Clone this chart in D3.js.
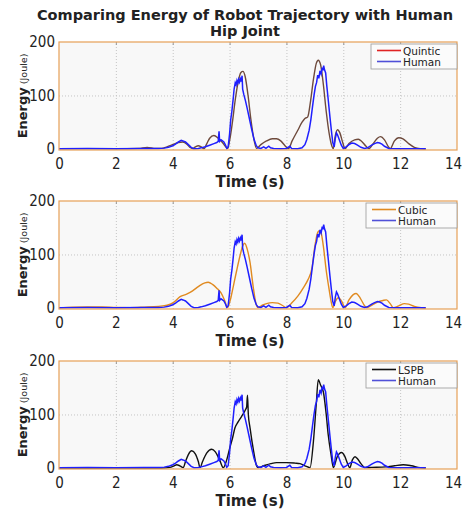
<!DOCTYPE html>
<html>
<head>
<meta charset="utf-8">
<script src="https://cdn.jsdelivr.net/npm/d3@7"></script>
<style>
  body { margin: 0; background: #fff; }
  text { font-family: "DejaVu Sans", sans-serif; fill: #222; }
</style>
</head>
<body>
<div id="chart"></div>
<script>
const width = 464;
const height = 510;

// tick labels
const timeTicks = [0, 2, 4, 6, 8, 10, 12, 14];
const energyTicks = [0, 100, 200];

// human hip joint energy (same recording in every panel)
const humanTime = [0, 1, 2, 3, 3.5, 3.7, 3.85, 4.0, 4.1, 4.2, 4.3, 4.36, 4.45, 4.55, 4.65, 4.75, 4.9, 5.0, 5.15, 5.3,
  5.45, 5.55, 5.6, 5.63, 5.65, 5.7, 5.75, 5.8, 5.86, 5.9, 5.95, 6.0, 6.04, 6.08, 6.12, 6.16, 6.2, 6.23, 6.26, 6.29,
  6.32, 6.35, 6.38, 6.41, 6.44, 6.46, 6.5, 6.56, 6.62, 6.7, 6.78, 6.86, 6.94, 7.0, 7.1, 7.2, 7.28, 7.38, 7.44, 7.55,
  7.8, 8.0, 8.12, 8.18, 8.4, 8.55, 8.65, 8.72, 8.8, 8.86, 8.92, 8.97, 9.02, 9.06, 9.1, 9.14, 9.18, 9.22, 9.26, 9.29,
  9.31, 9.34, 9.38, 9.42, 9.47, 9.53, 9.58, 9.63, 9.68, 9.72, 9.76, 9.8, 9.86, 9.93, 10.0, 10.1, 10.2, 10.3, 10.4, 10.5,
  10.62, 10.75, 10.85, 11.0, 11.1, 11.2, 11.28, 11.36, 11.45, 11.6, 12.0, 12.5, 12.9];
const humanEnergy = [0.5, 0.8, 0.4, 0.6, 0.8, 1.5, 3, 6, 9, 13, 16, 15, 13, 8, 3, 0.5, 1, 2, 4, 7,
  10, 12, 14, 33, 14, 17, 15, 13, 7, 1, 4, 28, 55, 70, 90, 112, 124, 120, 128, 123,
  130, 125, 131, 126, 137, 112, 102, 90, 76, 56, 36, 18, 6, 2, 1, 4, 1, 5, 2, 1,
  0.5, 1, 5, 1, 0.5, 2, 8, 18, 35, 55, 80, 100, 117, 124, 138, 132, 146, 140, 152, 147,
  156, 148, 142, 118, 92, 60, 35, 12, 4, 20, 30, 26, 17, 7, 1, 4, 8, 11, 10, 7,
  3, 1, 2, 7, 10, 12, 11, 9, 5, 1, 0.5, 0.5, 0.3];

// robot trajectories
const quinticTime = [0, 1, 2, 2.8, 3.1, 3.4, 3.6, 3.8, 4.0, 4.2, 4.35, 4.5, 4.6, 4.7, 4.8, 4.9, 5.0, 5.1, 5.2, 5.3,
  5.45, 5.6, 5.75, 5.85, 5.93, 6.0, 6.1, 6.2, 6.3, 6.4, 6.47, 6.55, 6.65, 6.75, 6.85, 6.95, 7.1, 7.3, 7.5, 7.65,
  7.8, 7.95, 8.07, 8.2, 8.4, 8.55, 8.65, 8.75, 8.85, 8.95, 9.05, 9.12, 9.2, 9.3, 9.4, 9.5, 9.6, 9.65, 9.72, 9.8,
  9.88, 9.98, 10.06, 10.2, 10.4, 10.53, 10.65, 10.8, 10.9, 11.05, 11.2, 11.31, 11.45, 11.6, 11.65, 11.8, 11.95, 12.1, 12.3, 12.5,
  12.7, 12.9];
const quinticEnergy = [0.5, 0.5, 0.5, 1, 3, 1, 1, 4, 8, 12, 13, 9, 3, 0.5, 4, 6, 4, 0.5, 10, 20,
  25, 20, 12, 5, 0.5, 15, 50, 92, 125, 143, 145, 135, 100, 55, 20, 1, 8, 15, 19, 19,
  15, 6, 0.5, 15, 35, 50, 57, 60, 90, 130, 160, 166, 158, 120, 70, 30, 5, 0.5, 25, 36,
  30, 12, 0.5, 10, 17, 18, 14, 5, 0.5, 10, 20, 23, 17, 3, 0.5, 15, 21, 19, 10, 3,
  0.5, 0];

const cubicTime = [0, 0.5, 1.0, 1.5, 2.0, 2.5, 3.0, 3.5, 3.8, 4.02, 4.26, 4.49, 4.7, 4.9, 5.13, 5.25, 5.4, 5.55, 5.7, 5.82,
  5.93, 6.05, 6.13, 6.25, 6.37, 6.47, 6.53, 6.62, 6.72, 6.83, 6.92, 7.0, 7.15, 7.3, 7.5, 7.7, 7.85, 8.0, 8.2, 8.4,
  8.6, 8.75, 8.9, 9.0, 9.08, 9.14, 9.22, 9.3, 9.4, 9.5, 9.58, 9.63, 9.72, 9.82, 9.95, 10.06, 10.2, 10.35, 10.45, 10.6,
  10.75, 10.82, 11.0, 11.2, 11.4, 11.52, 11.65, 11.76, 11.95, 12.15, 12.3, 12.5, 12.75, 12.9];
const cubicEnergy = [0.3, 1.5, 2, 1.8, 0.8, 0.5, 1.5, 3, 5, 10, 21, 26, 32, 40, 47, 48, 44, 37, 28, 15,
  0.5, 20, 40, 70, 98, 117, 121, 110, 85, 40, 10, 0.5, 5, 8, 10, 9, 5, 0.5, 10, 22,
  38, 52, 75, 115, 138, 144, 140, 115, 70, 35, 10, 0.5, 12, 19, 12, 0.5, 15, 25, 27, 18,
  4, 0.5, 5, 11, 14, 15, 8, 0.5, 4, 8, 7, 3, 0.5, 0];

const lspbTime = [0, 3.6, 3.9, 4.05, 4.14, 4.25, 4.37, 4.45, 4.55, 4.67, 4.8, 4.9, 4.96, 5.05, 5.2, 5.37, 5.5, 5.65, 5.78, 5.9,
  6.01, 6.1, 6.19, 6.3, 6.42, 6.55, 6.6, 6.63, 6.66, 6.72, 6.85, 6.95, 7.0, 7.2, 7.45, 7.65, 8.0, 8.3, 8.48, 8.65,
  8.83, 8.95, 9.05, 9.12, 9.2, 9.3, 9.4, 9.47, 9.57, 9.65, 9.78, 9.94, 10.05, 10.15, 10.23, 10.32, 10.41, 10.5, 10.62, 10.76,
  11.0, 11.5, 11.8, 12.11, 12.4, 12.7, 12.9];
const lspbEnergy = [0, 0, 1, 4, 6, 4, 0.5, 12, 25, 32, 26, 12, 0.5, 12, 28, 35, 30, 15, 0.5, 15,
  38, 55, 75, 86, 96, 108, 114, 136, 100, 75, 30, 4, 0.5, 4, 8, 10, 10, 9, 8, 4,
  0.5, 50, 120, 165, 155, 142, 100, 62, 25, 0.5, 20, 29, 22, 8, 0.5, 15, 21, 17, 8, 0.5,
  1, 2, 4, 6, 4, 0.5, 0];

const panels = [
  { name: "Quintic", time: quinticTime, energy: quinticEnergy, color: "#6e4a3c", legendColor: "#e02424", top: 42, legendX: 371 },
  { name: "Cubic", time: cubicTime, energy: cubicEnergy, color: "#e08a20", legendColor: "#e08a20", top: 201, legendX: 366 },
  { name: "LSPB", time: lspbTime, energy: lspbEnergy, color: "#111111", legendColor: "#111111", top: 361, legendX: 366 }
];

const plotLeft = 59, plotRight = 457, plotH = 108;

const svg = d3.select("#chart").append("svg")
  .attr("width", width)
  .attr("height", height);

svg.append("text")
  .attr("x", 245).attr("y", 20)
  .attr("text-anchor", "middle")
  .style("font-size", "14.5px").style("font-weight", "bold")
  .text("Comparing Energy of Robot Trajectory with Human");
svg.append("text")
  .attr("x", 245).attr("y", 36)
  .attr("text-anchor", "middle")
  .style("font-size", "14.5px").style("font-weight", "bold")
  .text("Hip Joint");

const x = d3.scaleLinear().domain([0, 14]).range([plotLeft, plotRight]);

const human = humanTime.map((t, i) => ({ t: t, e: humanEnergy[i] }));

panels.forEach((p, k) => {
  const y = d3.scaleLinear().domain([-2, 200]).range([p.top + plotH, p.top]);
  const g = svg.append("g");

  g.append("rect")
    .attr("x", plotLeft).attr("y", p.top)
    .attr("width", plotRight - plotLeft).attr("height", plotH)
    .attr("fill", "#f8f8f8");

  // dotted grid
  g.append("g")
    .attr("transform", "translate(0," + (p.top + plotH) + ")")
    .call(d3.axisBottom(x).tickValues(timeTicks.slice(1, -1)).tickSize(-plotH).tickFormat(""))
    .call(a => a.select(".domain").remove())
    .selectAll("line").attr("stroke", "#c4c4c4").attr("stroke-dasharray", "1,2");
  g.append("g")
    .attr("transform", "translate(" + plotLeft + ",0)")
    .call(d3.axisLeft(y).tickValues([100]).tickSize(-(plotRight - plotLeft)).tickFormat(""))
    .call(a => a.select(".domain").remove())
    .selectAll("line").attr("stroke", "#c4c4c4").attr("stroke-dasharray", "1,2");

  // small inner ticks on top edge
  g.append("g")
    .attr("transform", "translate(0," + p.top + ")")
    .call(d3.axisTop(x).tickValues(timeTicks.slice(1, -1)).tickSize(-3).tickFormat(""))
    .call(a => a.select(".domain").remove())
    .selectAll("line").attr("stroke", "#999");

  g.append("clipPath").attr("id", "clip" + k)
    .append("rect")
    .attr("x", plotLeft).attr("y", p.top)
    .attr("width", plotRight - plotLeft).attr("height", plotH);

  const robot = p.time.map((t, i) => ({ t: t, e: p.energy[i] }));

  const smooth = d3.line().x(d => x(d.t)).y(d => y(d.e)).curve(d3.curveMonotoneX);
  const rough = d3.line().x(d => x(d.t)).y(d => y(d.e));

  const lines = g.append("g").attr("clip-path", "url(#clip" + k + ")");
  lines.append("path")
    .datum(robot)
    .attr("d", smooth)
    .attr("fill", "none")
    .attr("stroke", p.color)
    .attr("stroke-width", 1.4);
  lines.append("path")
    .datum(human)
    .attr("d", rough)
    .attr("fill", "none")
    .attr("stroke", "#1f1fff")
    .attr("stroke-width", 1.5);

  // frame
  g.append("rect")
    .attr("x", plotLeft).attr("y", p.top)
    .attr("width", plotRight - plotLeft).attr("height", plotH)
    .attr("fill", "none")
    .attr("stroke", "#e6a057")
    .attr("stroke-width", 1.2);

  // axes labels
  g.append("g")
    .attr("transform", "translate(0," + (p.top + plotH) + ")")
    .call(d3.axisBottom(x).tickValues(timeTicks).tickSize(0).tickPadding(8))
    .call(a => a.select(".domain").remove())
    .selectAll("text")
    .style("font-family", "'DejaVu Sans Condensed', 'DejaVu Sans', sans-serif")
    .style("font-stretch", "condensed")
    .style("font-size", "15px").attr("fill", "#222")
    .attr("dx", d => d === 14 ? -4 : 0);

  g.append("g")
    .attr("transform", "translate(" + (plotLeft - 3) + ",0)")
    .call(d3.axisLeft(y).tickValues(energyTicks).tickSize(0).tickPadding(1))
    .call(a => a.select(".domain").remove())
    .selectAll("text")
    .style("font-family", "'DejaVu Sans Condensed', 'DejaVu Sans', sans-serif")
    .style("font-stretch", "condensed")
    .style("font-size", "15px").attr("fill", "#222");

  g.append("text")
    .attr("x", 250).attr("y", p.top + plotH + 37)
    .attr("text-anchor", "middle")
    .style("font-size", "15px").style("font-weight", "bold")
    .text("Time (s)");

  const yl = g.append("text")
    .attr("transform", "translate(27," + (p.top + plotH / 2) + ") rotate(-90)")
    .attr("text-anchor", "middle");
  yl.append("tspan").style("font-size", "13px").style("font-weight", "bold").text("Energy");
  yl.append("tspan").style("font-size", "9.5px").text(" (Joule)");

  // legend
  const lg = g.append("g").attr("transform", "translate(" + p.legendX + "," + (p.top + 2) + ")");
  lg.append("rect")
    .attr("width", plotRight - p.legendX).attr("height", 25)
    .attr("fill", "#fbfbfb").attr("stroke", "#9a9a9a").attr("stroke-width", 0.8);
  const items = [{ name: p.name, color: p.legendColor }, { name: "Human", color: "#5050d8" }];
  items.forEach((it, i) => {
    lg.append("line")
      .attr("x1", 6).attr("x2", 30)
      .attr("y1", 6.5 + i * 11).attr("y2", 6.5 + i * 11)
      .attr("stroke", it.color).attr("stroke-width", 1.6);
    lg.append("text")
      .attr("x", 32).attr("y", 10.5 + i * 11)
      .style("font-size", "10.5px")
      .text(it.name);
  });
});
</script>
</body>
</html>
